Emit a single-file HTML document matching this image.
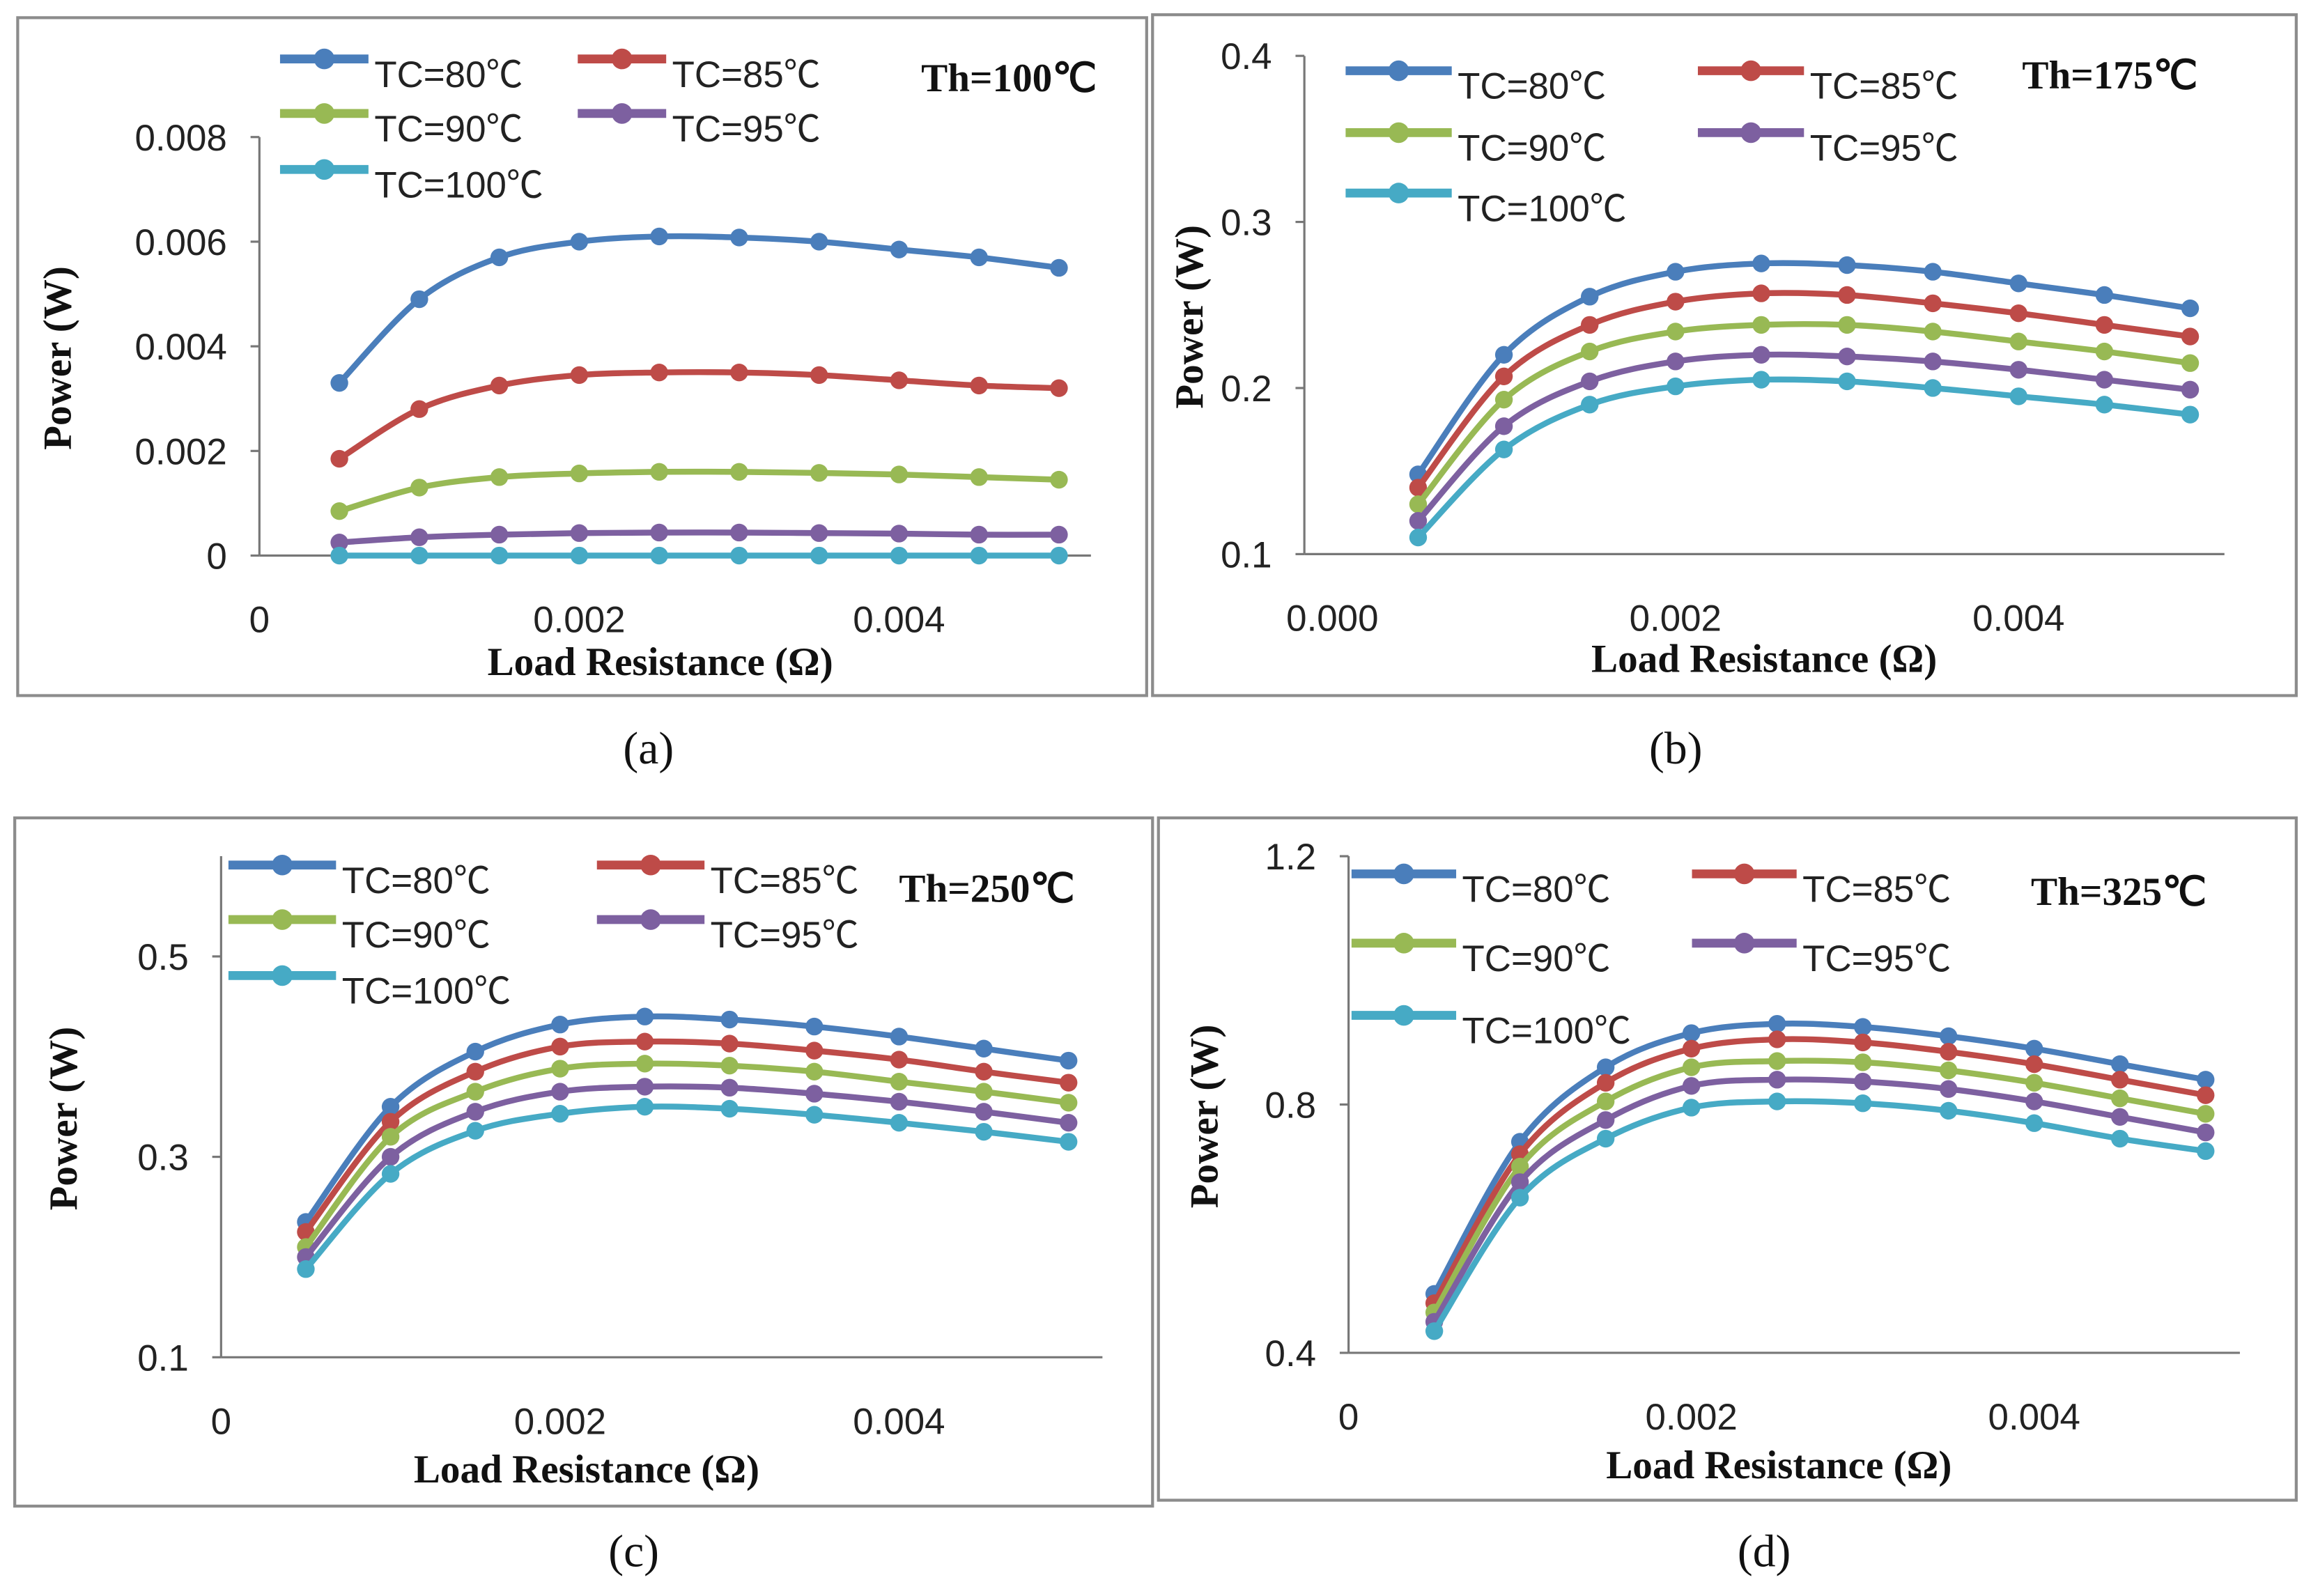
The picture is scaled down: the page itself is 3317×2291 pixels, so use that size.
<!DOCTYPE html>
<html><head><meta charset="utf-8">
<style>
html,body{margin:0;padding:0;background:#fff;}
svg{display:block;}
.tk{font-family:"Liberation Sans",sans-serif;font-size:25px;fill:#222;}
.lg{font-family:"Liberation Sans","Noto Sans CJK SC",sans-serif;font-size:25px;fill:#222;}
.ti{font-family:"Liberation Serif",serif;font-weight:bold;font-size:27px;fill:#111;}
.cap{font-family:"Liberation Serif",serif;font-size:31px;fill:#111;}
</style></head>
<body>
<svg id="fig" width="3317" height="2291" viewBox="0 0 1568 1083" xmlns="http://www.w3.org/2000/svg"></svg>
<script>
const xValues=[0.0005,0.001,0.0015,0.002,0.0025,0.003,0.0035,0.004,0.0045,0.005];
const seriesNames=["TC=80℃","TC=85℃","TC=90℃","TC=95℃","TC=100℃"];
const seriesColors=["#4a7ebb","#be4b48","#98b954","#7d60a0","#46aac5"];
const aTC80=[0.0033,0.0049,0.0057,0.0060,0.0061,0.00608,0.0060,0.00585,0.0057,0.0055];
const aTC85=[0.00185,0.0028,0.00325,0.00345,0.0035,0.0035,0.00345,0.00335,0.00325,0.0032];
const aTC90=[0.00085,0.0013,0.0015,0.00157,0.0016,0.0016,0.00158,0.00155,0.0015,0.00145];
const aTC95=[0.00025,0.00035,0.0004,0.00043,0.00044,0.00044,0.00043,0.00042,0.0004,0.0004];
const aTC100=[0,0,0,0,0,0,0,0,0,0];
const bTC80=[0.148,0.22,0.255,0.27,0.275,0.274,0.27,0.263,0.256,0.248];
const bTC85=[0.14,0.207,0.238,0.252,0.257,0.256,0.251,0.245,0.238,0.231];
const bTC90=[0.13,0.193,0.222,0.234,0.238,0.238,0.234,0.228,0.222,0.215];
const bTC95=[0.12,0.177,0.204,0.216,0.22,0.219,0.216,0.211,0.205,0.199];
const bTC100=[0.11,0.163,0.19,0.201,0.205,0.204,0.2,0.195,0.19,0.184];
const cTC80=[0.235,0.35,0.405,0.432,0.44,0.437,0.43,0.42,0.408,0.396];
const cTC85=[0.225,0.335,0.385,0.41,0.415,0.413,0.406,0.397,0.385,0.374];
const cTC90=[0.21,0.32,0.365,0.388,0.393,0.391,0.385,0.375,0.365,0.354];
const cTC95=[0.2,0.3,0.345,0.365,0.37,0.369,0.363,0.355,0.345,0.334];
const cTC100=[0.188,0.283,0.326,0.343,0.35,0.348,0.342,0.334,0.325,0.315];
const dTC80=[0.495,0.74,0.86,0.915,0.93,0.925,0.91,0.89,0.865,0.84];
const dTC85=[0.48,0.72,0.835,0.89,0.905,0.9,0.885,0.865,0.84,0.815];
const dTC90=[0.465,0.7,0.805,0.86,0.87,0.868,0.855,0.835,0.81,0.785];
const dTC95=[0.45,0.675,0.775,0.83,0.84,0.837,0.825,0.805,0.78,0.755];
const dTC100=[0.435,0.65,0.745,0.795,0.805,0.802,0.79,0.77,0.745,0.725];
const aYTicks=["0","0.002","0.004","0.006","0.008"];
const bYTicks=["0.1","0.2","0.3","0.4"];
const cYTicks=["0.1","0.3","0.5"];
const dYTicks=["0.4","0.8","1.2"];
const aXTicks=["0","0.002","0.004"];
const bXTicks=["0.000","0.002","0.004"];
const cXTicks=["0","0.002","0.004"];
const dXTicks=["0","0.002","0.004"];

const NS="http://www.w3.org/2000/svg";
const svg=document.getElementById('fig');
function mk(tag,attrs,parent,text){const e=document.createElementNS(NS,tag);for(const k in attrs)e.setAttribute(k,attrs[k]);if(text!==undefined)e.textContent=text;(parent||svg).appendChild(e);return e;}

const panels=[
 {id:'a',box:[12,12,766,460],ax:176,x0:176,xs:108.5,y0v:0,y0:377,ys:71/0.002,yTop:93,yTicks:aYTicks,xTicks:aXTicks,series:[aTC80,aTC85,aTC90,aTC95,aTC100],
  leg:[[190,40],[392,40],[190,77],[392,77],[190,115]],lw:60,th:"Th=100℃",thp:[625,62],cap:[440,518],capT:"(a)",ytx:48,xt:[448,458]},
 {id:'b',box:[782,10,776,462],ax:885,x0:904,xs:116.4,y0v:0.1,y0:376,ys:112.7/0.1,yTop:38,yTicks:bYTicks,xTicks:bXTicks,series:[bTC80,bTC85,bTC90,bTC95,bTC100],
  leg:[[913,48],[1152,48],[913,90],[1152,90],[913,131]],lw:72,th:"Th=175℃",thp:[1372,60],cap:[1137,518],capT:"(b)",ytx:816,xt:[1197,456]},
 {id:'c',box:[10,555,772,467],ax:150,x0:150,xs:115,y0v:0.1,y0:921,ys:68/0.1,yTop:581,yTicks:cYTicks,xTicks:cXTicks,series:[cTC80,cTC85,cTC90,cTC95,cTC100],
  leg:[[155,587],[405,587],[155,624],[405,624],[155,662]],lw:73,th:"Th=250℃",thp:[610,612],cap:[430,1063],capT:"(c)",ytx:52,xt:[398,1006]},
 {id:'d',box:[786,555,772,463],ax:915,x0:915,xs:116.3,y0v:0.4,y0:918,ys:168.5/0.4,yTop:581,yTicks:dYTicks,xTicks:dXTicks,series:[dTC80,dTC85,dTC90,dTC95,dTC100],
  leg:[[917,593],[1148,593],[917,640],[1148,640],[917,689]],lw:71,th:"Th=325℃",thp:[1378,614],cap:[1197,1063],capT:"(d)",ytx:826,xt:[1207,1003]}
];

function smooth(pts){let d=`M${pts[0][0]},${pts[0][1]}`;for(let i=0;i<pts.length-1;i++){const p0=pts[Math.max(0,i-1)],p1=pts[i],p2=pts[i+1],p3=pts[Math.min(pts.length-1,i+2)];const t=6;d+=` C${p1[0]+(p2[0]-p0[0])/t},${p1[1]+(p2[1]-p0[1])/t} ${p2[0]-(p3[0]-p1[0])/t},${p2[1]-(p3[1]-p1[1])/t} ${p2[0]},${p2[1]}`;}return d;}

panels.forEach(p=>{
 const g=mk('g',{});
 
 
 const fx=v=>p.x0+v*1000*p.xs, fy=v=>p.y0-(v-p.y0v)*p.ys;
 const bx=mk('rect',{x:p.box[0],y:p.box[1],width:p.box[2],height:p.box[3],fill:'none',stroke:'#8c8c8c','stroke-width':2},g);
 
 
 const yl=mk('line',{x1:p.ax,y1:p.yTop,x2:p.ax,y2:p.y0,stroke:'#777','stroke-width':1.5},g);
 
 
 const xEnd=fx(0.0052);
 const xl=mk('line',{x1:p.ax,y1:p.y0,x2:xEnd,y2:p.y0,stroke:'#777','stroke-width':1.5},g);
 
 
 p.yTicks.forEach(t=>{const y=fy(parseFloat(t));
  mk('line',{x1:p.ax-6,y1:y,x2:p.ax,y2:y,stroke:'#777','stroke-width':1.5},g);
  const tx=mk('text',{x:p.ax-22,y:y+9,'text-anchor':'end',class:'tk'},g,t);
  
  });
 p.xTicks.forEach(t=>{const x=fx(parseFloat(t));
  const tx=mk('text',{x:x,y:p.y0+52,'text-anchor':'middle',class:'tk'},g,t);
  
  });
 const yt=mk('text',{x:p.ytx,y:(p.yTop+p.y0)/2+8,'text-anchor':'middle',class:'ti',transform:`rotate(-90 ${p.ytx} ${(p.yTop+p.y0)/2+8})`},g,'Power (W)');
 
 
 const xt=mk('text',{x:p.xt[0],y:p.xt[1],'text-anchor':'middle',class:'ti'},g,'Load Resistance (Ω)');
 
 
 p.series.forEach((s,i)=>{
  const pts=s.map((v,j)=>[fx(xValues[j]),fy(v)]);
  const path=mk('path',{d:smooth(pts),fill:'none',stroke:seriesColors[i],'stroke-width':4},g);
  
  
  pts.forEach(q=>{const c=mk('circle',{cx:q[0],cy:q[1],r:6,fill:seriesColors[i]},g);
   
   });
 });
 p.leg.forEach((l,i)=>{
  const lg=mk('g',{},g);
  
  
  mk('line',{x1:l[0],y1:l[1],x2:l[0]+p.lw,y2:l[1],stroke:seriesColors[i],'stroke-width':6},lg);
  mk('circle',{cx:l[0]+p.lw/2,cy:l[1],r:7,fill:seriesColors[i]},lg);
  mk('text',{x:l[0]+p.lw+4,y:l[1]+19,class:'lg'},lg,seriesNames[i]);
 });
 const th=mk('text',{x:p.thp[0],y:p.thp[1],class:'ti','font-size':28},g,p.th);
 
 
 const cp=mk('text',{x:p.cap[0],y:p.cap[1],'text-anchor':'middle',class:'cap'},svg,p.capT);
 
 
});
</script>
</body></html>
